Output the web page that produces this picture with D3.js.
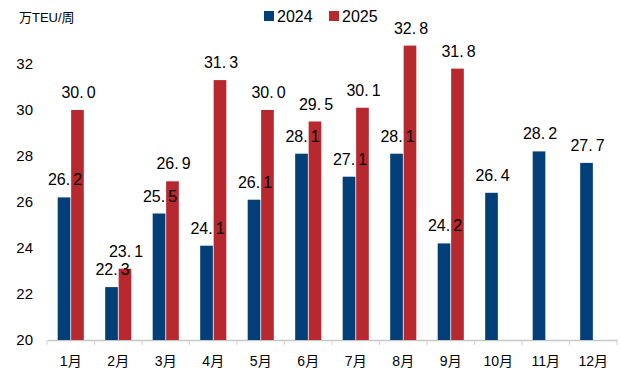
<!DOCTYPE html>
<html><head><meta charset="utf-8">
<script src="https://cdn.jsdelivr.net/npm/d3@7"></script>
<style>body{margin:0;background:#fff}svg{display:block}</style>
</head><body>
<svg id="c" width="621" height="385"></svg>
<script>
const categories = ["1月","2月","3月","4月","5月","6月","7月","8月","9月","10月","11月","12月"];
const seriesNames = ["2024","2025"];
const values2024 = [26.2,22.3,25.5,24.1,26.1,28.1,27.1,28.1,24.2,26.4,28.2,27.7];
const values2025 = [30.0,23.1,26.9,31.3,30.0,29.5,30.1,32.8,31.8,null,null,null];
const yTicks = [20,22,24,26,28,30,32];
const colors = ["#023f78","#b8292f"];
const unitLabel = "万TEU/周";

const svg = d3.select("#c");
const font = "Arial, 'Liberation Sans', 'Noto Sans CJK SC', sans-serif";
const x0 = d3.scaleBand().domain(categories).range([47,617]).paddingInner(0.45).paddingOuter(0.225);
const x1 = d3.scaleBand().domain(seriesNames).range([0,x0.bandwidth()]).paddingInner(0.06);
const y = d3.scaleLinear().domain([20,32]).range([340,64]);

// y tick labels
svg.append("g").selectAll("text").data(yTicks).join("text")
  .attr("x",33).attr("y",d=>y(d)).attr("dy","0.36em").attr("text-anchor","end")
  .attr("font-family",font).attr("font-size",15).attr("fill","#000").text(d=>d);

// unit
svg.append("text").attr("x",19).attr("y",22).attr("font-family",font).attr("font-size",13)
  .attr("fill","#000").text(unitLabel);

// x axis
const ax = svg.append("g").attr("transform","translate(0,340)")
  .call(d3.axisBottom(x0).tickSize(0).tickPadding(16));
ax.select(".domain").attr("stroke","#c8c8c8").attr("stroke-width",1.5);
ax.selectAll("text").attr("font-family",font).attr("font-size",14).attr("fill","#000");
// boundary ticks
const step = x0.step();
const bounds = d3.range(categories.length+1).map(i=>47+i*step);
svg.append("g").selectAll("line").data(bounds).join("line")
  .attr("x1",d=>d).attr("x2",d=>d).attr("y1",340).attr("y2",345)
  .attr("stroke","#d0d0d0").attr("stroke-width",1);

const data = categories.map((c,i)=>({c, vals:[{s:"2024",v:values2024[i]},{s:"2025",v:values2025[i]}].filter(d=>d.v!=null)}));
const g = svg.append("g").selectAll("g").data(data).join("g")
  .attr("transform",d=>`translate(${x0(d.c)},0)`);
g.selectAll("rect").data(d=>d.vals).join("rect")
  .attr("x",d=>x1(d.s)).attr("width",x1.bandwidth())
  .attr("y",d=>y(d.v)).attr("height",d=>y(20)-y(d.v))
  .attr("fill",d=>colors[seriesNames.indexOf(d.s)]);
const lab = g.selectAll("text.v").data(d=>d.vals).join("text").attr("class","v")
  .attr("x",d=>x1(d.s)+x1.bandwidth()/2+1).attr("y",d=>y(d.v)-12)
  .attr("text-anchor","middle").attr("font-family",font).attr("font-size",16).attr("fill","#000");
lab.append("tspan").text(d=>d.v.toFixed(1).split(".")[0]+".");
lab.append("tspan").attr("dx",3).text(d=>d.v.toFixed(1).split(".")[1]);

// legend
const lg = svg.append("g");
seriesNames.forEach((s,i)=>{
  const lx = 264 + i*65;
  lg.append("rect").attr("x",lx).attr("y",11).attr("width",10).attr("height",10).attr("fill",colors[i]);
  lg.append("text").attr("x",lx+13).attr("y",22).attr("font-family",font).attr("font-size",16).attr("fill","#000").text(s);
});
</script>
</body></html>
